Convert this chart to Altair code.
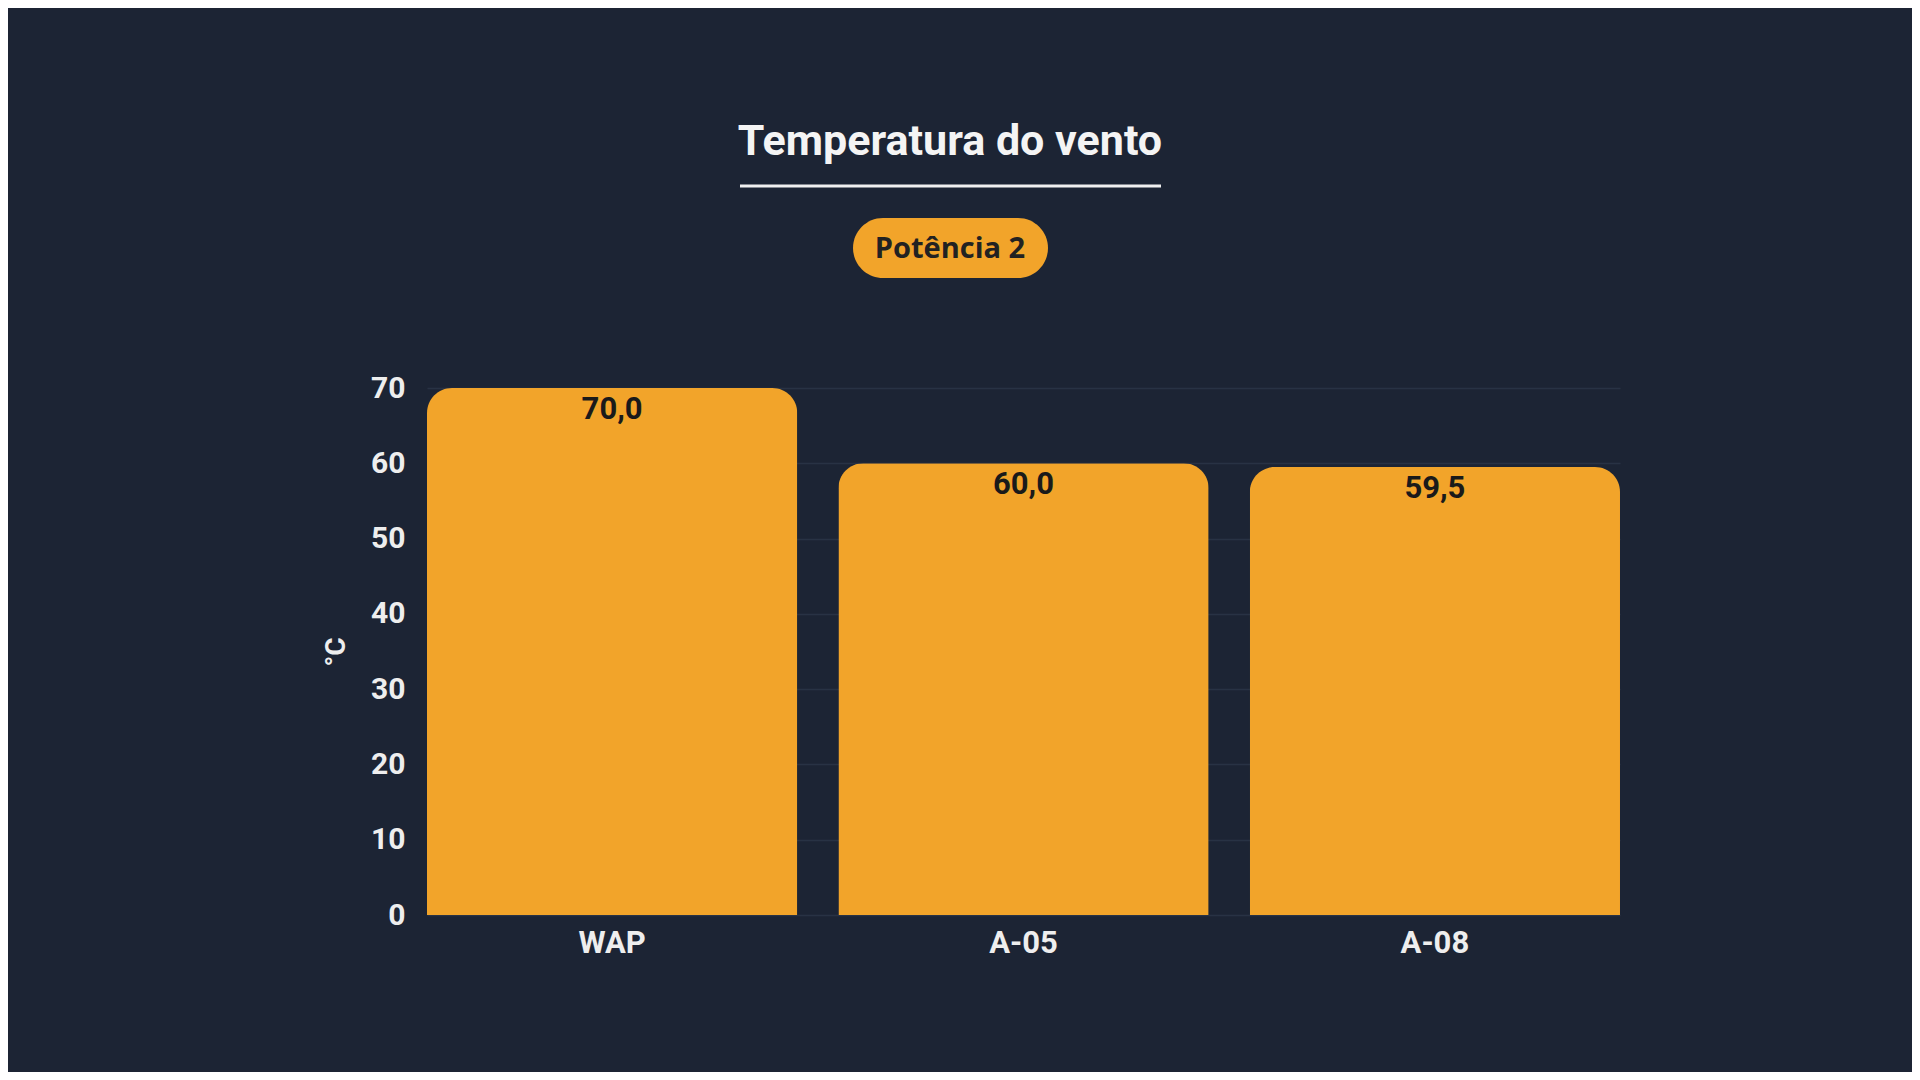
import altair as alt
import pandas as pd

categories = ["WAP", "A-05", "A-08"]
values = [70.0, 60.0, 59.5]
y_ticks = [0, 10, 20, 30, 40, 50, 60, 70]
title_text = "Temperatura do vento"
badge_text = "Potência 2"
y_title = "°C"

BG = "#1c2434"
BAR = "#f2a42a"
GRID = "#283244"
TXT = "#eeeeee"

df = pd.DataFrame({"cat": categories, "val": values})

W, H = 1193, 527

x_enc = alt.X("cat:N", sort=categories,
              scale=alt.Scale(paddingInner=0.1, paddingOuter=0),
              axis=alt.Axis(title=None, labelAngle=0, labelFont="Roboto", labelFontSize=31,
                            labelFontWeight="bold", labelColor=TXT, labelPadding=13,
                            ticks=False, domain=False, grid=False))
y_enc = alt.Y("val:Q", scale=alt.Scale(domain=[0, 70], nice=False),
              axis=alt.Axis(title=y_title, values=y_ticks, titleFont="Roboto", titleFontSize=28,
                            titleFontWeight="bold", titleColor=TXT, titlePadding=20,
                            labelFont="Roboto", labelFontSize=30, labelFontWeight="bold",
                            labelColor=TXT, labelPadding=22, ticks=False, domain=False,
                            grid=True, gridColor=GRID, gridWidth=1.5))

base = alt.Chart(df)

bars = base.mark_bar(color=BAR, cornerRadiusTopLeft=25, cornerRadiusTopRight=25).encode(
    x=x_enc, y=y_enc)

labels = base.transform_calculate(
    lbl="replace(format(datum.val, '.1f'), '.', ',')"
).mark_text(font="Roboto", fontSize=31, fontWeight="bold", color="#1a1a1a",
            baseline="middle", dy=22).encode(
    x=alt.X("cat:N", sort=categories), y=alt.Y("val:Q"), text="lbl:N")

ann = pd.DataFrame({"t": [title_text]})
title = alt.Chart(ann).mark_text(font="Roboto", fontSize=43, fontWeight="bold",
                                 color="#f4f4f4", baseline="middle", align="center").encode(
    x=alt.value(523), y=alt.value(-246), text="t:N")

underline = alt.Chart(ann).mark_rule(color="#f0f0f0", strokeWidth=3).encode(
    x=alt.value(313), x2=alt.value(734), y=alt.value(-202))

pill = alt.Chart(ann).mark_rect(color=BAR, cornerRadius=30).encode(
    x=alt.value(426), x2=alt.value(621), y=alt.value(-170), y2=alt.value(-110))

bdf = pd.DataFrame({"t": [badge_text]})
pill_text = alt.Chart(bdf).mark_text(font="Open Sans", fontSize=29, fontWeight="bold",
                                     color="#222222", baseline="middle", align="center").encode(
    x=alt.value(523), y=alt.value(-139), text="t:N")

chart = alt.layer(bars, labels, title, underline, pill, pill_text).properties(
    width=W, height=H,
    autosize=alt.AutoSizeParams(type="none"),
    padding={"left": 419, "top": 380, "right": 292, "bottom": 157},
    background=BG,
).configure_view(stroke=None)

chart.save("out.html", embed_options={"renderer": "svg", "actions": False})
